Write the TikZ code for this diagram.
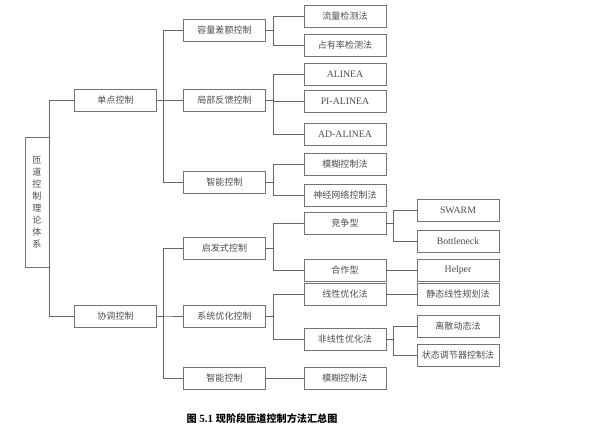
\documentclass[tikz,border=0pt]{standalone}
\usepackage{fontspec}
\setmainfont{Liberation Serif}
\newfontfamily\cjk{Noto Sans CJK SC}[Scale=0.92]
\begin{document}
\begin{tikzpicture}[x=1pt,y=-1pt,
  bx/.style={draw=black!55, line width=0.6pt, minimum width=82pt, minimum height=22pt, inner sep=0pt, text=black!70, font=\fontsize{9.8}{11}\selectfont\cjk},
  lat/.style={font=\fontsize{9.8}{11}\selectfont},
  ln/.style={draw=black!60, line width=0.6pt}]
\useasboundingbox (0,0) rectangle (612,436);
\node[bx, minimum width=24pt, minimum height=130pt, align=center, font=\fontsize{9.8}{12}\selectfont\cjk] (r) at (37,202) {匝\\道\\控\\制\\理\\论\\体\\系};
\node[bx] (a1) at (115.5,100.5) {单点控制};
\node[bx] (a2) at (115.5,316) {协调控制};
\node[bx] (b1) at (224.5,30) {容量差额控制};
\node[bx] (b2) at (224.5,100.5) {局部反馈控制};
\node[bx] (b3) at (224.5,182) {智能控制};
\node[bx] (b4) at (224.5,248.5) {启发式控制};
\node[bx] (b5) at (224.5,316) {系统优化控制};
\node[bx] (b6) at (224.5,378.5) {智能控制};
\node[bx] (c1) at (345,16) {流量检测法};
\node[bx] (c2) at (345,45) {占有率检测法};
\node[bx,lat] (c3) at (345,74) {ALINEA};
\node[bx,lat] (c4) at (345,101) {PI-ALINEA};
\node[bx,lat] (c5) at (345,134.5) {AD-ALINEA};
\node[bx] (c6) at (345,164) {模糊控制法};
\node[bx] (c7) at (345,195) {神经网络控制法};
\node[bx] (c8) at (345,223.5) {竞争型};
\node[bx] (c9) at (345,270) {合作型};
\node[bx] (c10) at (345,294) {线性优化法};
\node[bx] (c11) at (345,339.5) {非线性优化法};
\node[bx] (c12) at (345,378.5) {模糊控制法};
\node[bx,lat] (d1) at (458,210) {SWARM};
\node[bx,lat] (d2) at (458,241) {Bottleneck};
\node[bx,lat] (d3) at (458,270) {Helper};
\node[bx] (d4) at (458,294) {静态线性规划法};
\node[bx] (d5) at (458,326) {离散动态法};
\node[bx] (d6) at (458,355) {状态调节器控制法};
\coordinate (t0) at (49,0);
\coordinate (t1) at (163,0);
\coordinate (t2) at (273,0);
\coordinate (t3) at (393,0);
\foreach \c in {a1,a2} \draw[ln] (r.east) -- (r.east -| t0) |- (\c.west);
\foreach \c in {b1,b2,b3} \draw[ln] (a1.east) -- (a1.east -| t1) |- (\c.west);
\foreach \c in {b4,b5,b6} \draw[ln] (a2.east) -- (a2.east -| t1) |- (\c.west);
\foreach \c in {c1,c2} \draw[ln] (b1.east) -- (b1.east -| t2) |- (\c.west);
\foreach \c in {c3,c4,c5} \draw[ln] (b2.east) -- (b2.east -| t2) |- (\c.west);
\foreach \c in {c6,c7} \draw[ln] (b3.east) -- (b3.east -| t2) |- (\c.west);
\foreach \c in {c8,c9} \draw[ln] (b4.east) -- (b4.east -| t2) |- (\c.west);
\foreach \c in {c10,c11} \draw[ln] (b5.east) -- (b5.east -| t2) |- (\c.west);
\draw[ln] (b6.east) -- (c12.west);
\foreach \c in {d1,d2} \draw[ln] (c8.east) -- (c8.east -| t3) |- (\c.west);
\draw[ln] (c9.east) -- (d3.west);
\draw[ln] (c10.east) -- (d4.west);
\foreach \c in {d5,d6} \draw[ln] (c11.east) -- (c11.east -| t3) |- (\c.west);
\node[font=\fontsize{11}{13}\selectfont\bfseries] (cap) at (262,419) {{\cjk\bfseries 图} 5.1 {\cjk\bfseries 现阶段匝道控制方法汇总图}};
\end{tikzpicture}
\end{document}
